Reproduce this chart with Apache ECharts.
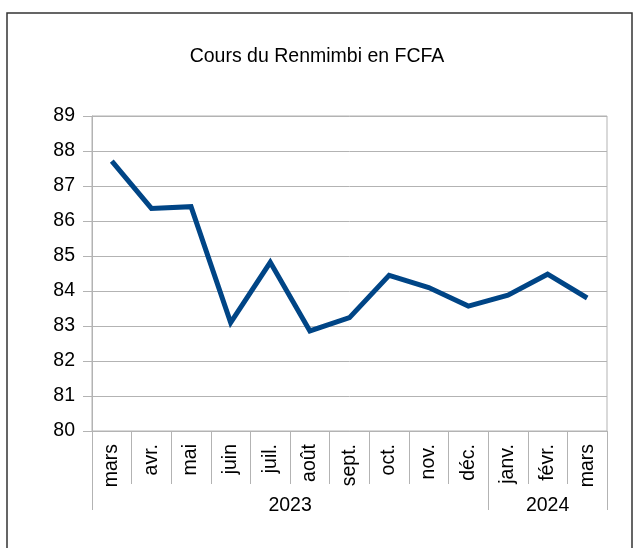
<!DOCTYPE html>
<html>
  <head>
    <meta charset="utf-8" />
    <style>
      html, body { margin: 0; padding: 0; background: #fff; }
    </style>
  </head>
  <body>
    <div id="main" style="width: 634px; height: 548px"></div>
    <script src="https://cdn.jsdelivr.net/npm/echarts@6/dist/echarts.min.js"></script>
    <script>
      // mois
      var months = ["mars", "avr.", "mai", "juin", "juil.", "août", "sept.", "oct.", "nov.", "déc.", "janv.", "févr.", "mars"];
      // cours
      var rates = [87.71, 86.36, 86.41, 83.1, 84.82, 82.86, 83.24, 84.45, 84.1, 83.57, 83.88, 84.48, 83.8];
      // années : position (en demi-mois) du libellé
      var years = ["2023", "2024"];
      var yearPos = [10, 23];
      var yearBreaks = [0, 20, 26];

      var yearSlots = [];
      for (var i = 0; i <= 26; i++) {
        var k = yearPos.indexOf(i);
        yearSlots.push(k >= 0 ? years[k] : "");
      }

      var font = "Liberation Sans, Arial, sans-serif";
      var grey = "#b3b3b3";

      var chart = echarts.init(document.getElementById("main"));
      var option = {
        backgroundColor: "#fff",
        animation: false,
        graphic: [
          {
            type: "rect",
            shape: { x: 7, y: 13, width: 625, height: 560 },
            style: { fill: "none", stroke: "#333", lineWidth: 1.5 },
          },
        ],
        title: {
          text: "Cours du Renmimbi en FCFA",
          left: "center",
          top: 42,
          textStyle: { fontFamily: font, fontSize: 19.5, fontWeight: "normal", color: "#000" },
        },
        grid: {
          left: 92,
          right: 27,
          top: 116,
          bottom: 117,
          show: true,
          borderColor: grey,
          borderWidth: 1,
        },
        xAxis: [
          {
            type: "category",
            data: months,
            boundaryGap: true,
            axisLine: { show: true, lineStyle: { color: grey } },
            axisTick: { show: true, interval: 0, length: 53, lineStyle: { color: grey } },
            axisLabel: {
              interval: 0,
              rotate: 90,
              margin: 13,
              fontFamily: font,
              fontSize: 19.5,
              color: "#000",
            },
            splitLine: { show: false },
          },
          {
            type: "category",
            data: yearSlots,
            boundaryGap: false,
            position: "bottom",
            axisLine: { show: false },
            axisTick: {
              show: true,
              length: 79,
              interval: function (idx) { return yearBreaks.indexOf(idx) >= 0; },
              lineStyle: { color: grey },
            },
            axisLabel: {
              interval: 0,
              margin: 65,
              fontFamily: font,
              fontSize: 19.5,
              color: "#000",
            },
            splitLine: { show: false },
          },
        ],
        yAxis: {
          type: "value",
          min: 80,
          max: 89,
          interval: 1,
          axisLine: { show: true, lineStyle: { color: grey } },
          axisTick: { show: true, length: 9, lineStyle: { color: grey } },
          axisLabel: { margin: 17, fontFamily: font, fontSize: 19.5, color: "#000" },
          splitLine: { lineStyle: { color: grey } },
        },
        series: [
          {
            name: "Cours",
            type: "line",
            data: rates,
            symbol: "none",
            lineStyle: { color: "#004586", width: 5, join: "miter" },
          },
        ],
      };
      chart.setOption(option);
    </script>
  </body>
</html>
